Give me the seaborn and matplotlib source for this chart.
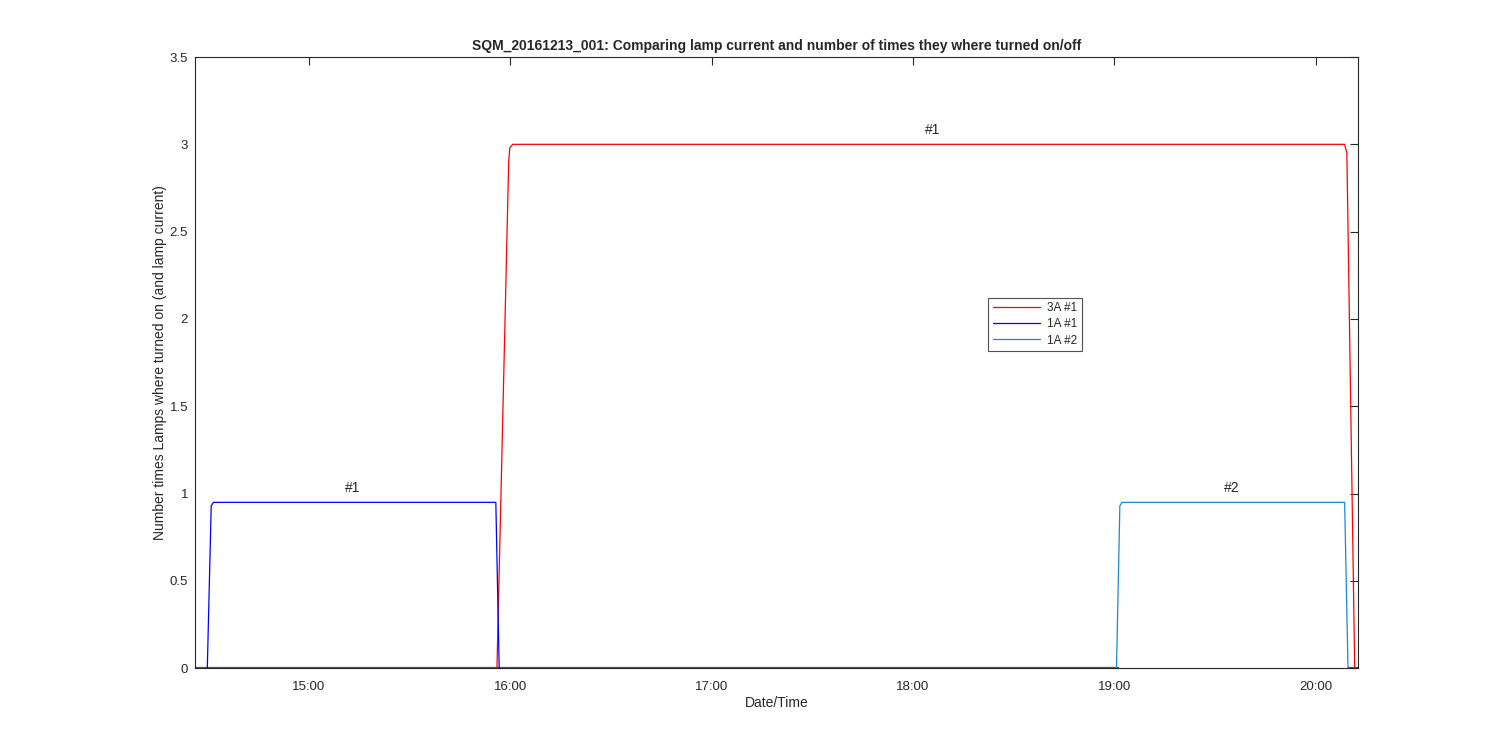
import pandas as pd
import seaborn as sns
import matplotlib
matplotlib.use("Agg")
import matplotlib.pyplot as plt
import matplotlib.dates as mdates

day = "2016-12-13 "

# breakpoints (HH:MM:SS, value)
t_3a1 = ["15:56:00", "15:59:30", "15:59:50", "16:00:40", "20:08:40", "20:09:20", "20:11:40"]
v_3a1 = [0.0, 2.9, 2.98, 3.0, 3.0, 2.95, 0.0]

t_1a1 = ["14:29:40", "14:30:50", "14:31:30", "15:55:40", "15:56:40"]
v_1a1 = [0.0, 0.93, 0.95, 0.95, 0.0]

t_1a2 = ["19:00:40", "19:01:40", "19:02:20", "20:08:40", "20:09:40"]
v_1a2 = [0.0, 0.93, 0.95, 0.95, 0.0]

# low grey baseline, two pieces
t_base1 = ["14:26:00", "19:01:00"]
t_base2 = ["20:09:40", "20:12:30"]
v_base = [0.008, 0.008]

labels = ["3A #1", "1A #1", "1A #2"]
colors = ["#ff0000", "#0000ff", "#1a8ad0"]

notes = [("15:13:00", 0.99, "#1"), ("18:06:00", 3.04, "#1"), ("19:35:00", 0.99, "#2")]

xlim = ("14:26:00", "20:12:30")


def ts(s):
    return pd.Timestamp(day + s)


sns.set_style("white")
plt.rcParams["font.family"] = ["Liberation Sans", "DejaVu Sans"]

fig = plt.figure(figsize=(15, 7.5), dpi=100)
ax = fig.add_axes([0.13, 0.109, 0.775, 0.815])

for tb in [t_base1, t_base2]:
    ax.plot([ts(s) for s in tb], v_base, color="#555555", lw=0.9, zorder=1)

for tt, vv, lab, col in zip([t_3a1, t_1a1, t_1a2], [v_3a1, v_1a1, v_1a2], labels, colors):
    sns.lineplot(x=[ts(s) for s in tt], y=vv, ax=ax, color=col, label=lab,
                 linewidth=0.9, sort=False, estimator=None)

for t, y, s in notes:
    ax.text(ts(t), y, s, ha="center", va="bottom", fontsize=10)

ax.set_xlim(ts(xlim[0]), ts(xlim[1]))
ax.set_ylim(0, 3.5)
ax.set_yticks([0, 0.5, 1, 1.5, 2, 2.5, 3, 3.5])
ax.set_yticklabels(["0", "0.5", "1", "1.5", "2", "2.5", "3", "3.5"])
ax.xaxis.set_major_locator(mdates.HourLocator())
ax.xaxis.set_major_formatter(mdates.DateFormatter("%H:%M"))

ax.tick_params(direction="in", length=6, width=0.8, top=True, right=True,
               labelsize=9.5, colors="#262626")
ax.tick_params(axis="x", pad=9)
ax.tick_params(axis="y", pad=5)
for sp in ax.spines.values():
    sp.set_visible(True)
    sp.set_color("#262626")
    sp.set_linewidth(0.8)

ax.set_xlabel("Date/Time", fontsize=10, color="#262626", labelpad=2)
ax.set_ylabel("Number times Lamps where turned on (and lamp current)", fontsize=10,
              color="#262626", labelpad=2)
ax.set_title("SQM_20161213_001: Comparing lamp current and number of times they where turned on/off",
             fontsize=10, fontweight="bold", color="#262626", pad=5)

leg = ax.legend(loc="upper left", bbox_to_anchor=(0.677, 0.616), fontsize=8.5,
                frameon=True, fancybox=False, edgecolor="#262626", handlelength=4,
                borderpad=0.4, labelspacing=0.35, handletextpad=0.6, borderaxespad=0.5)
leg.get_frame().set_linewidth(0.8)

fig.savefig("out.png", dpi=100, facecolor="white")
